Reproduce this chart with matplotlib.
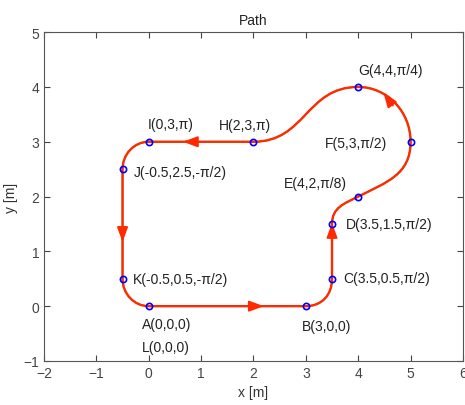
import numpy as np
import matplotlib
matplotlib.use("Agg")
import matplotlib.pyplot as plt
from matplotlib.path import Path
from matplotlib.patches import PathPatch

plt.rcParams['font.family'] = ['Liberation Sans', 'DejaVu Sans']

# waypoints A..K, then back to A (L)
names = ['A', 'B', 'C', 'D', 'E', 'F', 'G', 'H', 'I', 'J', 'K']
wx = [0, 3, 3.5, 3.5, 4, 5, 4, 2, 0, -0.5, -0.5]
wy = [0, 0, 0.5, 1.5, 2, 3, 4, 3, 3, 2.5, 0.5]
# heading of the drawn curve at each waypoint
head = [0, 0, np.pi/2, np.pi/2, np.pi/7, np.pi/2, np.pi, np.pi, np.pi, -np.pi/2, -np.pi/2]
# handle length of each segment (A-B, B-C, ..., K-A)
hlen = [1.0, 0.3, 0.3, 0.3, 0.6, 0.55, 1.0, 0.6, 0.276, 0.6, 0.276]

labels = ['A(0,0,0)', 'L(0,0,0)', 'K(-0.5,0.5,-π/2)', 'B(3,0,0)', 'C(3.5,0.5,π/2)',
          'D(3.5,1.5,π/2)', 'E(4,2,π/8)', 'F(5,3,π/2)', 'G(4,4,π/4)', 'H(2,3,π)',
          'I(0,3,π)', 'J(-0.5,2.5,-π/2)']
lab_x = [-0.13, -0.13, -0.3, 2.92, 3.72, 3.76, 2.59, 3.37, 4.0, 1.33, -0.01, -0.28]
lab_y = [-0.33, -0.74, 0.49, -0.36, 0.51, 1.5, 2.24, 2.98, 4.31, 3.3, 3.32, 2.45]

# arrows: tail -> tip
arr_tail = [(1.9, 0), (3.5, 1.22), (4.66, 3.66), (0.95, 3), (-0.5, 1.45)]
arr_tip = [(2.2, 0), (3.5, 1.52), (4.48, 3.9), (0.65, 3), (-0.5, 1.17)]

red = '#ff2a00'

fig = plt.figure(figsize=(4.65, 4.06), dpi=100)
ax = fig.add_axes([0.0946, 0.1084, 0.901, 0.810])

# build the path as cubic bezier segments
verts = [(wx[0], wy[0])]
codes = [Path.MOVETO]
n = len(wx)
for i in range(n):
    j = (i + 1) % n
    d = hlen[i]
    p1 = (wx[i] + d*np.cos(head[i]), wy[i] + d*np.sin(head[i]))
    p2 = (wx[j] - d*np.cos(head[j]), wy[j] - d*np.sin(head[j]))
    verts += [p1, p2, (wx[j], wy[j])]
    codes += [Path.CURVE4]*3

pth = Path(verts, codes)
ax.add_patch(PathPatch(pth, facecolor='none', edgecolor='#33cc33', lw=1.2, zorder=2))
ax.add_patch(PathPatch(pth, facecolor='none', edgecolor=red, lw=1.7, zorder=3))

for t, h in zip(arr_tail, arr_tip):
    ax.annotate('', xy=h, xytext=t,
                arrowprops=dict(arrowstyle='-|>,head_length=0.6,head_width=0.22',
                                color=red, lw=1.3, mutation_scale=15,
                                shrinkA=0, shrinkB=0), zorder=4)

ax.plot(wx, wy, 'o', ls='none', mfc='none', mec='#0000ff', ms=4.5, mew=1.2, zorder=5)

for s, x, y in zip(labels, lab_x, lab_y):
    ax.text(x, y, s, ha='left', va='center', fontsize=10, color='#222222')

ax.set_xlim(-2, 6)
ax.set_ylim(-1, 5)
ax.set_xticks(range(-2, 7))
ax.set_yticks(range(-1, 6))
ax.tick_params(direction='in', top=True, right=True, labelsize=10,
               colors='#444444', length=4)
for sp in ax.spines.values():
    sp.set_color('#555555')
ax.set_xlabel('x [m]', fontsize=10, color='#333333')
ax.set_ylabel('y [m]', fontsize=10, color='#333333')
ax.set_title('Path', fontsize=10, color='#222222')

fig.savefig('out.png', dpi=100)
